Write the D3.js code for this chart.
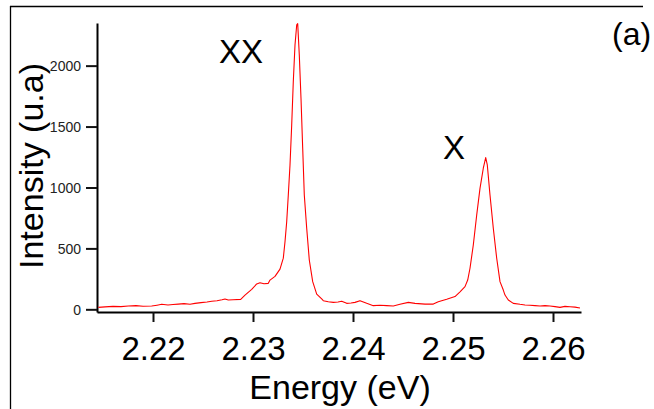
<!DOCTYPE html>
<html>
<head>
<meta charset="utf-8">
<script src="https://cdn.jsdelivr.net/npm/d3@7"></script>
<style>
  html, body { margin: 0; padding: 0; background: #fff; }
  svg { display: block; }
  text { font-family: "Liberation Sans", Arial, Helvetica, sans-serif; }
</style>
</head>
<body>
<svg id="chart" width="654" height="409"></svg>
<script>
// ---- data ----
const energy = [
  2.21453, 2.21520, 2.21600, 2.21680, 2.21753, 2.21830, 2.21900, 2.21987, 2.22040, 2.22087,
  2.22150, 2.22200, 2.22253, 2.22310, 2.22370, 2.22420, 2.22480, 2.22540, 2.22587, 2.22640,
  2.22690, 2.22720, 2.22753, 2.22800, 2.22877, 2.22920, 2.22987, 2.23037, 2.23070, 2.23110,
  2.23153, 2.23170, 2.23220, 2.23270, 2.23303, 2.23320, 2.23337, 2.23353, 2.23370, 2.23387,
  2.23403, 2.23420, 2.23437, 2.23447, 2.23463, 2.23480, 2.23497, 2.23513, 2.23537, 2.23563,
  2.23597, 2.23637, 2.23687, 2.23703, 2.23753, 2.23803, 2.23850, 2.23887, 2.23937, 2.23980,
  2.24020, 2.24070, 2.24137, 2.24203, 2.24270, 2.24337, 2.24403, 2.24470, 2.24553, 2.24620,
  2.24720, 2.24803, 2.24853, 2.24937, 2.25020, 2.25070, 2.25120, 2.25147, 2.25170, 2.25203,
  2.25237, 2.25270, 2.25303, 2.25327, 2.25343, 2.25370, 2.25403, 2.25437, 2.25470, 2.25503,
  2.25520, 2.25553, 2.25603, 2.25670, 2.25720, 2.25770, 2.25820, 2.25870, 2.25920, 2.25970,
  2.26020, 2.26070, 2.26120, 2.26170, 2.26220, 2.26270
];
const intensity = [
  16, 20, 24, 22, 27, 30, 25, 27, 34, 41,
  36, 40, 43, 47, 42, 49, 55, 60, 66, 70,
  78, 85, 76, 78, 82, 117, 164, 208, 218, 210,
  213, 240, 270, 330, 420, 555, 719, 938, 1185, 1513,
  1869, 2170, 2334, 2345, 2088, 1732, 1322, 938, 665, 405,
  227, 125, 85, 71, 62, 57, 60, 66, 49, 52,
  57, 71, 49, 30, 34, 30, 27, 41, 57, 49,
  43, 43, 62, 82, 105, 144, 186, 240, 337, 528,
  774, 993, 1158, 1245, 1185, 938, 665, 419, 227, 158,
  117, 76, 49, 41, 36, 33, 30, 27, 30, 27,
  22, 16, 24, 21, 18, 11
];
const xTicks = [2.22, 2.23, 2.24, 2.25, 2.26];
const yTicks = [0, 500, 1000, 1500, 2000];
const xLabel = "Energy (eV)";
const yLabel = "Intensity (u.a)";
const peakLabels = ["XX", "X"];
const panelLabel = "(a)";

// ---- drawing ----
const svg = d3.select("#chart");

// outer frame (top and left edges visible)
svg.append("line").attr("x1", 10).attr("x2", 643).attr("y1", 6.5).attr("y2", 6.5)
  .attr("stroke", "#000").attr("stroke-width", 1.3);
svg.append("line").attr("x1", 10.5).attr("x2", 10.5).attr("y1", 6).attr("y2", 409)
  .attr("stroke", "#000").attr("stroke-width", 1.3);

const x = d3.scaleLinear().domain([2.2144, 2.2628]).range([97, 581]);
const y = d3.scaleLinear().domain([-22, 2350]).range([312, 23]);

// x axis
const gx = svg.append("g").attr("transform", "translate(0,312)")
  .call(d3.axisBottom(x).tickValues(xTicks).tickSize(10).tickSizeOuter(0)
        .tickFormat(d3.format(".2f")));
gx.select(".domain").attr("stroke", "#000").attr("stroke-width", 2);
gx.selectAll(".tick line").attr("stroke", "#111").attr("stroke-width", 2);
gx.selectAll(".tick text").attr("y", 48).attr("dy", 0)
  .attr("fill", "#000").style("font-size", "33px")
  .style("font-family", "'Liberation Sans', Arial, sans-serif");

// y axis
const gy = svg.append("g").attr("transform", "translate(97,0)")
  .call(d3.axisLeft(y).tickValues(yTicks).tickSize(11).tickSizeOuter(0)
        .tickFormat(d3.format("d")));
gy.select(".domain").attr("stroke", "#000").attr("stroke-width", 2);
gy.selectAll(".tick line").attr("stroke", "#111").attr("stroke-width", 2);
gy.selectAll(".tick text").attr("x", -16).attr("dy", "0.36em")
  .attr("fill", "#222").style("font-size", "14px")
  .style("font-family", "'Liberation Sans', Arial, sans-serif");

// spectrum line
const pts = energy.map((e, i) => [e, intensity[i]]);
svg.append("path").datum(pts)
  .attr("fill", "none").attr("stroke", "#ff0000").attr("stroke-width", 1.1)
  .attr("stroke-linejoin", "round")
  .attr("d", d3.line().x(d => x(d[0])).y(d => y(d[1])));

// axis titles
svg.append("text").attr("x", 340).attr("y", 399).attr("text-anchor", "middle")
  .style("font-size", "34px").attr("fill", "#000").text(xLabel);
svg.append("text").attr("transform", "translate(43,166) rotate(-90)")
  .attr("text-anchor", "middle").style("font-size", "34px").attr("fill", "#000")
  .text(yLabel);

// annotations
svg.append("text").attr("x", 219).attr("y", 63).style("font-size", "33px")
  .attr("fill", "#000").text(peakLabels[0]);
svg.append("text").attr("x", 443).attr("y", 159).style("font-size", "33px")
  .attr("fill", "#000").text(peakLabels[1]);
svg.append("text").attr("x", 612).attr("y", 45).style("font-size", "32px")
  .attr("fill", "#000").text(panelLabel);
</script>
</body>
</html>
